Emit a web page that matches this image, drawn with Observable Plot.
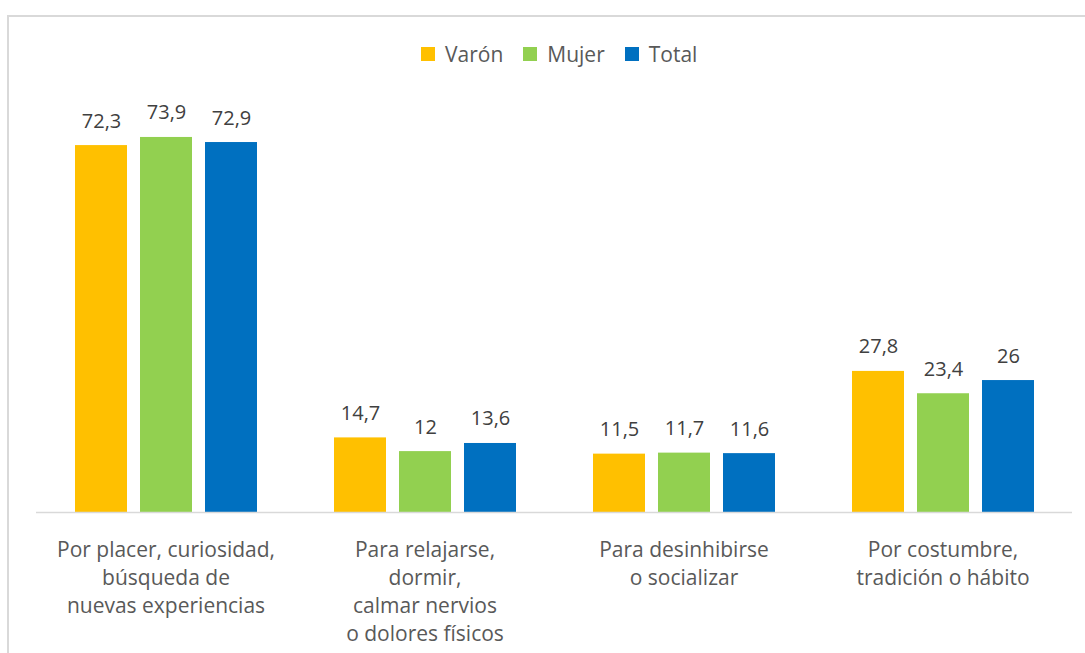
<!DOCTYPE html>
<html>
<head>
<meta charset="utf-8">
<script src="https://cdn.jsdelivr.net/npm/d3@7"></script>
<script src="https://cdn.jsdelivr.net/npm/@observablehq/plot@0.6"></script>
<style>
  html, body { margin: 0; padding: 0; background: #fff; }
  body { width: 1085px; height: 653px; position: relative; overflow: hidden; font-family: "Open Sans", sans-serif; }
  #frame { position: absolute; left: 7px; top: 15px; width: 1090px; height: 700px; border: 2px solid #d9d9d9; box-sizing: border-box; }
  #legend { position: absolute; left: 421px; top: 40px; display: flex; align-items: center; font-size: 21px; color: #595959; }
  #legend .item { display: flex; align-items: center; margin-right: 20px; }
  #legend .sw { width: 14px; height: 14px; margin-right: 10px; }
  #chart { position: absolute; left: 0; top: 0; }
</style>
</head>
<body>
<div id="frame"></div>
<div id="legend"></div>
<div id="chart"></div>
<script>
const categories = ["placer", "relajarse", "desinhibirse", "costumbre"];
const categoryLabels = [
  "Por placer, curiosidad,\nbúsqueda de\nnuevas experiencias",
  "Para relajarse,\ndormir,\ncalmar nervios\no dolores físicos",
  "Para desinhibirse\no socializar",
  "Por costumbre,\ntradición o hábito"
];
const series = ["Varón", "Mujer", "Total"];
const colors = ["#FFC000", "#92D050", "#0070C0"];
const varon = [72.3, 14.7, 11.5, 27.8];
const mujer = [73.9, 12, 11.7, 23.4];
const total = [72.9, 13.6, 11.6, 26];

const values = [varon, mujer, total];
const data = [];
categories.forEach((c, i) => {
  series.forEach((s, j) => data.push({category: c, serie: s, value: values[j][i]}));
});
const labelRows = categories.map((c, i) => ({category: c, label: categoryLabels[i]}));

const fmt = v => String(v).replace(".", ",");

const chart = Plot.plot({
  width: 1085,
  height: 653,
  marginLeft: 35,
  marginRight: 13,
  marginTop: 106,
  marginBottom: 141,
  style: {fontFamily: "'Open Sans', sans-serif", background: "transparent"},
  fx: {domain: categories, padding: 0, axis: null},
  x: {domain: series, paddingInner: 0.2, paddingOuter: 0.59, axis: null},
  y: {domain: [0, 80], axis: null},
  color: {domain: series, range: colors},
  marks: [
    Plot.barY(data, {fx: "category", x: "serie", y: "value", fill: "serie"}),
    Plot.text(data, {fx: "category", x: "serie", y: "value", text: d => fmt(d.value), lineAnchor: "bottom", dy: -18, fontSize: 20, fill: "#404040"}),
    Plot.ruleY([0], {stroke: "#d9d9d9", strokeWidth: 1.5}),
    Plot.text(labelRows, {fx: "category", text: "label", frameAnchor: "bottom", lineAnchor: "top", dy: 25, lineHeight: 1.333, fontSize: 21, fill: "#595959"})
  ]
});
document.getElementById("chart").appendChild(chart);

const legend = document.getElementById("legend");
series.forEach((s, j) => {
  const item = document.createElement("div");
  item.className = "item";
  const sw = document.createElement("span");
  sw.className = "sw";
  sw.style.background = colors[j];
  const t = document.createElement("span");
  t.textContent = s;
  item.appendChild(sw);
  item.appendChild(t);
  legend.appendChild(item);
});
</script>
</body>
</html>
